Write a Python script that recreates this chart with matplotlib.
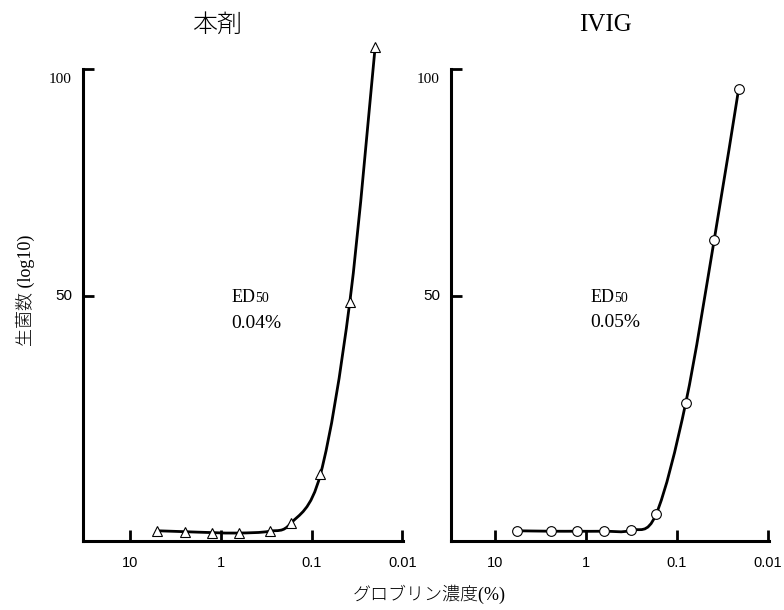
import numpy as np
import matplotlib
matplotlib.use('Agg')
import matplotlib.pyplot as plt
from matplotlib.path import Path
from matplotlib.patches import PathPatch
from matplotlib.ticker import NullLocator

# readings from the reference (concentration %, viable count)
left_title = '本剤'
left_conc = [5, 2.5, 1.25, 0.63, 0.29, 0.17, 0.08, 0.038, 0.02]
left_count = [-1.6, -1.8, -2.0, -2.1, -1.7, 0.0, 10.8, 48.7, 104.7]
left_ed50 = '0.04%'

right_title = 'IVIG'
right_conc = [5.7, 2.4, 1.25, 0.63, 0.32, 0.17, 0.08, 0.039, 0.021]
right_count = [-1.6, -1.7, -1.7, -1.7, -1.5, 2.0, 26.6, 62.4, 95.6]
right_ed50 = '0.05%'

xticks = [10, 1, 0.1, 0.01]
xtick_labels = ['10', '1', '0.1', '0.01']
yticks = [50, 100]
ytick_labels = ['50', '100']
ytick_fonts = ['Liberation Sans', 'Liberation Serif']

CJK = ['Liberation Serif', 'Noto Sans CJK JP']


def smooth_path(xs, ys):
    # Catmull-Rom style bezier through the points, built in log-x space
    pts = np.column_stack([np.log10(xs), ys])
    n = len(pts)
    verts = [pts[0]]
    codes = [Path.MOVETO]
    for i in range(n - 1):
        p0 = pts[max(i - 1, 0)]
        p1 = pts[i]
        p2 = pts[i + 1]
        p3 = pts[min(i + 2, n - 1)]
        verts += [p1 + (p2 - p0) / 6, p2 - (p3 - p1) / 6, p2]
        codes += [Path.CURVE4] * 3
    verts = np.array(verts)
    verts[:, 0] = 10 ** verts[:, 0]
    return Path(verts, codes)


def draw_panel(ax, conc, count, marker, xlim):
    ax.set_xscale('log')
    ax.set_xlim(*xlim)
    ax.set_ylim(-3.85, 108.5)
    ax.xaxis.set_minor_locator(NullLocator())

    ax.add_patch(PathPatch(smooth_path(conc, count), fill=False, lw=2.0,
                           ec='black', zorder=2))
    ax.plot(conc, count, linestyle='none', marker=marker, ms=7,
            mfc='white', mec='black', mew=0.8, zorder=3, clip_on=False)

    for s in ['top', 'right']:
        ax.spines[s].set_visible(False)
    for s in ['left', 'bottom']:
        ax.spines[s].set_linewidth(2.2)
    ax.spines['left'].set_bounds(-3.85, 100)

    ax.set_xticks(xticks)
    ax.set_xticklabels(xtick_labels, fontfamily='Liberation Sans', fontsize=10.5)
    ax.set_yticks(yticks)
    ax.set_yticklabels([])
    ax.tick_params(axis='x', direction='in', length=8, width=2, pad=11)
    ax.tick_params(axis='y', direction='in', length=8, width=2)

    ytrans = ax.get_yaxis_transform()
    for val, lab, fam in zip(yticks, ytick_labels, ytick_fonts):
        if val == 100:
            ax.annotate(lab, xy=(0, val), xycoords=ytrans, xytext=(-8, -3),
                        textcoords='offset points', ha='right', va='top',
                        fontfamily=fam, fontsize=11)
        else:
            ax.annotate(lab, xy=(0, val), xycoords=ytrans, xytext=(-8, 0),
                        textcoords='offset points', ha='right', va='center',
                        fontfamily=fam, fontsize=11)

    ax.patch.set_visible(False)
    return ax


def ed50_note(ax, x, y, y2, value):
    ax.text(x, y, 'ED', fontfamily='Liberation Serif', fontsize=13, va='baseline')
    ax.annotate('50', xy=(x, y), xytext=(17.5, 0), textcoords='offset points',
                fontfamily='Liberation Serif', fontsize=10, va='baseline')
    ax.text(x, y2, value, fontfamily='Liberation Serif', fontsize=14, va='baseline')


fig = plt.figure(figsize=(7.84, 6.10), dpi=100)

ax1 = fig.add_axes([0.1059, 0.1131, 0.4082, 0.8377])
draw_panel(ax1, left_conc, left_count, '^', (32.9, 0.00985))
ed50_note(ax1, 0.77, 48.7, 43.0, left_ed50)

ax2 = fig.add_axes([0.5753, 0.1131, 0.4056, 0.8377])
draw_panel(ax2, right_conc, right_count, 'o', (30.4, 0.00975))
ed50_note(ax2, 0.9, 48.6, 43.2, right_ed50)

fig.text(217 / 784, 1 - 25 / 610, left_title, family=CJK, fontsize=18,
         fontweight='light', ha='center', va='center')
fig.text(605 / 784, 1 - 25 / 610, right_title, family='Liberation Serif', fontsize=18,
         ha='center', va='center')
fig.text(25 / 784, 1 - 290 / 610, '生菌数 (log10)', family=CJK, fontsize=13,
         fontweight='light', rotation=90, ha='center', va='center')
fig.text(429 / 784, 1 - 594 / 610, 'グロブリン濃度(%)', family=CJK, fontsize=13,
         fontweight='light', ha='center', va='center')

fig.savefig('out.png', dpi=100)
